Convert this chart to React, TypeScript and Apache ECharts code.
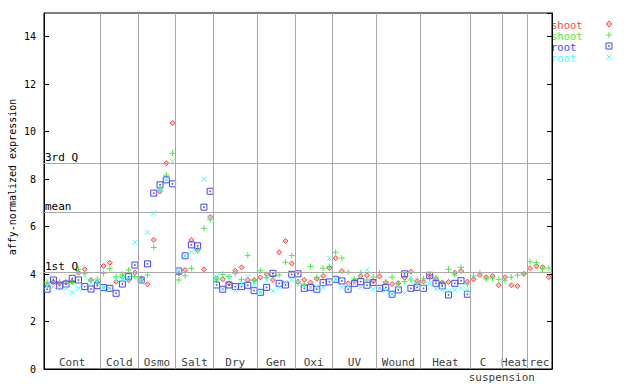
import React, { useEffect, useRef } from 'react';
import * as echarts from 'echarts';

const groupNames = ['Cont', 'Cold', 'Osmo', 'Salt', 'Dry', 'Gen', 'Oxi', 'UV', 'Wound', 'Heat', 'C', 'Heat', 'rec'];
const groupSizes = [9, 6, 6, 6, 7, 6, 6, 7, 7, 8, 5, 4, 4];
const subLabel = 'suspension';

const shootA = [
  3.54, 3.65, 3.61, 3.65, 3.68, 4.06, 4.20, 3.75, 3.65,
  4.34, 4.48, 3.68, 3.89, 3.75, 4.06,
  3.78, 3.57, 5.44, 7.48, 8.67, 10.36,
  4.03, 4.17, 5.44, 5.02, 4.20, 6.40,
  3.82, 3.78, 3.61, 4.14, 4.28, 3.75, 3.75,
  3.86, 3.99, 3.75, 4.92, 5.39, 4.45,
  3.68, 3.75, 3.64, 3.80, 3.92, 4.25,
  4.67, 4.13, 3.61, 3.70, 3.92, 3.95, 3.71,
  3.90, 3.64, 3.58, 3.61, 3.85, 4.10, 3.71,
  3.68, 3.95, 3.78, 3.65, 3.67, 4.06, 4.13, 3.68,
  3.78, 3.96, 3.87, 3.92, 3.53,
  3.87, 3.53, 3.49, 4.01,
  4.25, 4.34, 4.29, 3.87,
];
const shootB = [
  3.66, 3.70, 3.68, 3.68, 3.65, 4.20, 4.03, 3.71, 3.79,
  4.03, 4.24, 3.89, 4.00, 4.17, 3.89,
  3.82, 3.96, 5.12, 7.58, 8.17, 9.09,
  3.75, 3.93, 4.24, 4.98, 5.93, 6.29,
  3.75, 3.99, 3.89, 4.03, 3.78, 4.79, 3.72,
  4.14, 3.85, 3.93, 3.96, 4.50, 4.78,
  3.60, 3.58, 4.32, 3.87, 4.25, 4.32,
  4.92, 4.67, 4.08, 3.80, 4.06, 3.75, 3.87,
  4.06, 3.68, 3.87, 3.61, 3.68, 3.75, 3.61,
  3.80, 3.80, 3.87, 3.61, 4.20, 3.96, 4.28, 3.58,
  3.92, 4.06, 3.80, 3.83, 3.78,
  3.74, 3.87, 3.95, 4.01,
  4.52, 4.48, 4.22, 4.25,
];
const rootA = [
  3.36, 3.75, 3.50, 3.58, 3.82, 3.75, 3.47, 3.37, 3.51,
  3.43, 3.40, 3.19, 3.58, 3.89, 4.38,
  3.75, 4.43, 7.41, 7.76, 7.97, 7.80,
  4.13, 4.77, 5.23, 5.19, 6.82, 7.49,
  3.54, 3.36, 3.54, 3.47, 3.47, 3.53, 3.30,
  3.23, 3.44, 4.03, 3.61, 3.54, 3.99,
  4.01, 3.40, 3.44, 3.36, 3.64, 3.67,
  3.78, 3.71, 3.36, 3.61, 3.68, 3.53, 3.64,
  3.40, 3.44, 3.15, 3.33, 4.01, 3.40, 3.44,
  3.40, 3.95, 3.61, 3.50, 3.12, 3.61, 3.72, 3.15,
  null, null, null, null, null,
  null, null, null, null,
  null, null, null, null,
];
const rootB = [
  3.50, 3.47, 3.47, 3.40, 3.23, 3.40, 3.93, 3.64, 3.68,
  3.43, 3.40, 3.75, 3.82, 3.82, 5.34,
  3.75, 5.76, 6.57, 7.60, 7.97, 8.74,
  4.13, 4.77, 4.92, 4.98, 8.00, 6.37,
  3.89, 3.36, 3.89, 3.30, 3.61, 3.89, 3.54,
  3.23, 3.75, 3.29, 3.44, 3.64, 3.75,
  3.68, 3.50, 3.44, 3.45, 3.44, 4.67,
  3.78, 3.44, 3.50, 3.61, 3.44, 4.18, 3.36,
  3.40, 3.33, 3.15, 3.45, 3.19, 3.87, 3.55,
  3.55, 3.60, 3.38, 3.33, 3.30, 3.33, 3.40, 3.33,
  null, null, null, null, null,
  null, null, null, null,
  null, null, null, null,
];

const quartileNames = ['1st Q', 'mean', '3rd Q'];
const quartileValues = [4.09, 6.61, 8.67];
const legendNames = ['shoot', 'shoot', 'root', 'root'];
const colors = ['#ff4444', '#44ee44', '#4444ff', '#44ffff'];

const MONO = 'DejaVu Sans Mono';

export default function App() {
  const ref = useRef<HTMLDivElement>(null);
  useEffect(() => {
    if (!ref.current) return;
    const chart = echarts.init(ref.current, undefined, { renderer: 'svg' });
    const total = groupSizes.reduce((a, b) => a + b, 0);
    const bounds: number[] = [];
    const centers: number[] = [];
    let acc = 0;
    groupSizes.forEach((s, i) => {
      centers.push(acc + s / 2);
      acc += s;
      if (i < groupSizes.length - 1) bounds.push(acc);
    });
    const pts = (arr: (number | null)[]) =>
      arr.map((v, i) => (v == null ? null : [i + 0.5, v])).filter((p) => p != null);

    const labelData: any[] = groupNames.map((n, i) => ({
      value: [centers[i], 0],
      name: n,
      label: n === 'C' ? { offset: [-3, 0] } : undefined,
    }));
    const cIdx = groupNames.indexOf('C');
    const cStart = centers[cIdx] + groupSizes[cIdx] / 2;
    labelData.push({
      value: [cStart, 0],
      name: subLabel,
      label: { position: 'bottom', distance: 3 },
    });

    const symbols = [
      { symbol: 'diamond', size: 5, fill: '#ffc0c0', bw: 1 },
      { symbol: 'path://M0 3H6M3 0V6', size: 6, fill: 'transparent', bw: 1 },
      { symbol: 'path://M0 0H6V6H0ZM2.6 2.6H3.4V3.4H2.6Z', size: 6, fill: 'transparent', bw: 1 },
      { symbol: 'path://M0 0L5 5M5 0L0 5', size: 5, fill: 'transparent', bw: 1 },
    ];
    const datasets = [shootA, shootB, rootA, rootB];

    const legendY = [24, 35, 46, 57];
    const mx = 609;
    const legendGraphics: any[] = [];
    legendNames.forEach((n, i) => {
      legendGraphics.push({
        type: 'text',
        left: 551,
        top: legendY[i] - 5,
        style: { text: n, fill: colors[i], font: `10.5px "${MONO}"`, lineHeight: 10 },
      });
    });
    legendGraphics.push({
      type: 'polygon',
      shape: { points: [[mx, legendY[0] - 3], [mx + 3, legendY[0]], [mx, legendY[0] + 3], [mx - 3, legendY[0]]] },
      style: { fill: '#ffc0c0', stroke: colors[0], lineWidth: 1 },
    });
    legendGraphics.push({ type: 'line', shape: { x1: mx - 3, y1: legendY[1], x2: mx + 3, y2: legendY[1] }, style: { stroke: colors[1], lineWidth: 1 } });
    legendGraphics.push({ type: 'line', shape: { x1: mx, y1: legendY[1] - 3, x2: mx, y2: legendY[1] + 3 }, style: { stroke: colors[1], lineWidth: 1 } });
    legendGraphics.push({ type: 'rect', shape: { x: mx - 3, y: legendY[2] - 3, width: 6, height: 6 }, style: { fill: 'none', stroke: colors[2], lineWidth: 1 } });
    legendGraphics.push({ type: 'rect', shape: { x: mx - 0.4, y: legendY[2] - 0.4, width: 0.8, height: 0.8 }, style: { fill: 'none', stroke: colors[2], lineWidth: 1 } });
    legendGraphics.push({ type: 'line', shape: { x1: mx - 2.5, y1: legendY[3] - 2.5, x2: mx + 2.5, y2: legendY[3] + 2.5 }, style: { stroke: colors[3], lineWidth: 1 } });
    legendGraphics.push({ type: 'line', shape: { x1: mx + 2.5, y1: legendY[3] - 2.5, x2: mx - 2.5, y2: legendY[3] + 2.5 }, style: { stroke: colors[3], lineWidth: 1 } });
    legendGraphics.push({
      type: 'text',
      x: 12,
      y: 177,
      rotation: Math.PI / 2,
      style: { text: 'affy-normalized expression', fill: '#000', font: `10px "${MONO}"`, align: 'center', verticalAlign: 'middle' },
    });

    const option: any = {
      animation: false,
      backgroundColor: '#fff',
      grid: { left: 44, right: 88, top: 13, bottom: 15, show: true, borderColor: '#000', borderWidth: 1, backgroundColor: 'transparent' },
      xAxis: {
        type: 'value', min: 0, max: total,
        axisLine: { show: true, lineStyle: { color: '#000' } },
        axisTick: { show: false }, axisLabel: { show: false }, splitLine: { show: false },
      },
      yAxis: [
        {
          type: 'value', min: 0, max: 15, interval: 2, position: 'left',
          axisLine: { show: true, lineStyle: { color: '#000' } },
          axisTick: { show: true, inside: true, length: 5, lineStyle: { color: '#000' } },
          axisLabel: { show: true, showMaxLabel: false, margin: 8, color: '#000', fontFamily: MONO, fontSize: 10 },
          splitLine: { show: false },
        },
        {
          type: 'value', min: 0, max: 15, interval: 2, position: 'right',
          axisLine: { show: true, lineStyle: { color: '#000' } },
          axisTick: { show: true, inside: true, length: 5, lineStyle: { color: '#000' } },
          axisLabel: { show: false }, splitLine: { show: false },
        },
      ],
      graphic: legendGraphics,
      series: [
        {
          type: 'scatter',
          z: 1,
          symbolSize: 0,
          silent: true,
          clip: false,
          data: labelData,
          label: {
            show: true, formatter: '{b}', position: 'top', distance: 1,
            color: '#000', fontFamily: MONO, fontSize: 11,
          },
          markLine: {
            silent: true,
            symbol: ['none', 'none'],
            lineStyle: { color: '#a8a8a8', type: 'solid', width: 1 },
            data: [
              ...bounds.map((b) => ({ xAxis: b, label: { show: false } })),
              ...quartileValues.map((v, i) => ({
                yAxis: v,
                label: {
                  show: true, formatter: quartileNames[i], position: 'insideStartTop',
                  distance: [1, 0], padding: 0,
                  color: '#000', fontFamily: MONO, fontSize: 11,
                },
              })),
            ],
          },
        },
        ...datasets.map((d, i) => ({
          type: 'scatter',
          name: legendNames[i],
          z: 2 + i,
          symbol: symbols[i].symbol,
          symbolSize: symbols[i].size,
          itemStyle: { color: symbols[i].fill, borderColor: colors[i], borderWidth: symbols[i].bw, opacity: 1 },
          data: pts(d),
        })),
      ],
    };
    chart.setOption(option);
    return () => chart.dispose();
  }, []);
  return <div ref={ref} style={{ position: 'fixed', left: 0, top: 0, width: 640, height: 384 }} />;
}
